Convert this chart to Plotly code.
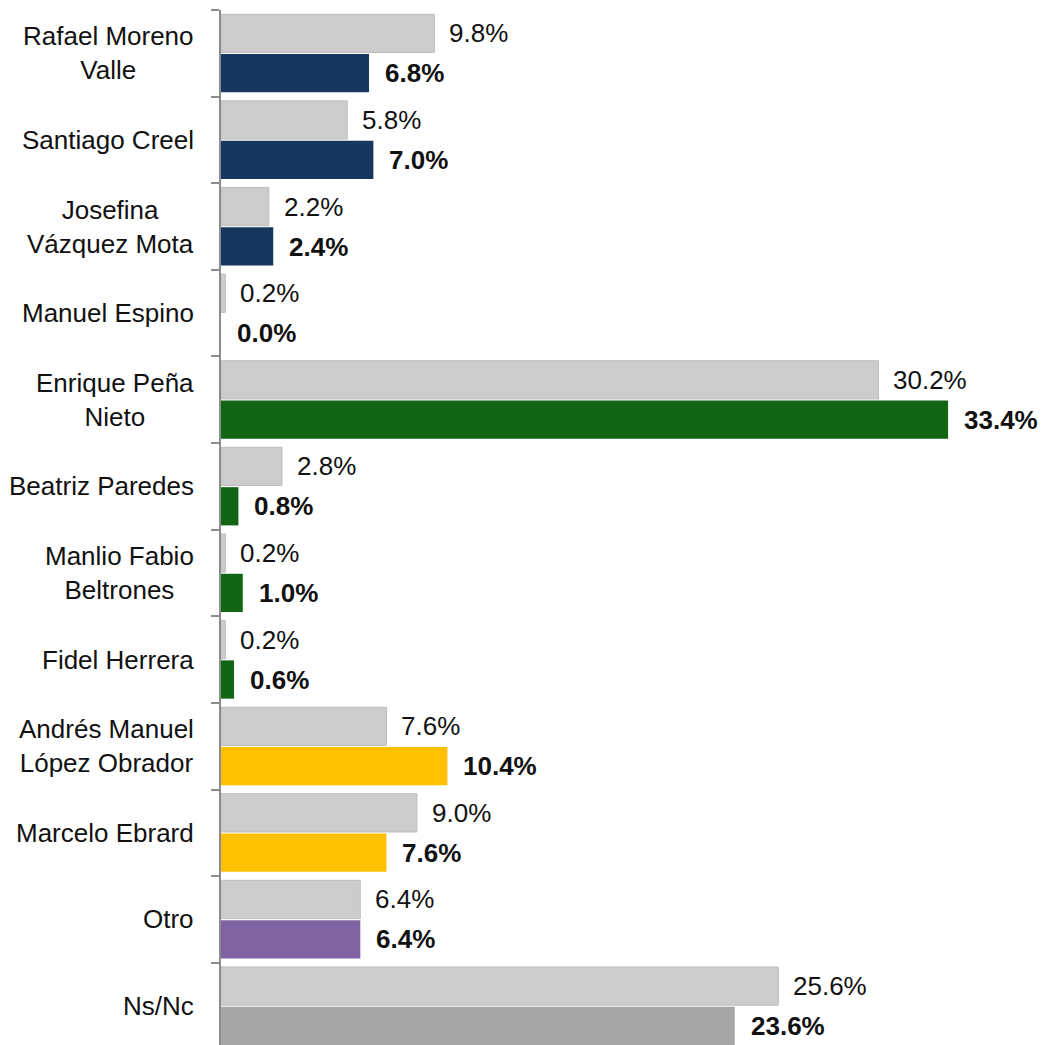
import plotly.graph_objects as go

# Candidates (two-line labels use <br>)
candidates = [
    "Rafael Moreno<br>Valle",
    "Santiago Creel",
    "Josefina<br>Vázquez Mota",
    "Manuel Espino",
    "Enrique Peña<br>Nieto",
    "Beatriz Paredes",
    "Manlio Fabio<br>Beltrones",
    "Fidel Herrera",
    "Andrés Manuel<br>López Obrador",
    "Marcelo Ebrard",
    "Otro",
    "Ns/Nc",
]

# Previous measurement (grey bars) and current measurement (coloured bars), in %
previous = [9.8, 5.8, 2.2, 0.2, 30.2, 2.8, 0.2, 0.2, 7.6, 9.0, 6.4, 25.6]
current = [6.8, 7.0, 2.4, 0.0, 33.4, 0.8, 1.0, 0.6, 10.4, 7.6, 6.4, 23.6]

NAVY = "#17375E"
GREEN = "#126515"
GOLD = "#FFC000"
PURPLE = "#8064A2"
DARK_GREY = "#A6A6A6"
current_colors = [NAVY, NAVY, NAVY, NAVY, GREEN, GREEN, GREEN, GREEN,
                  GOLD, GOLD, PURPLE, DARK_GREY]

FONT = "Liberation Sans"
FS = 26

fig = go.Figure()
fig.add_trace(go.Bar(
    y=candidates, x=previous, orientation="h",
    marker=dict(color="#CCCCCC", line=dict(color="#BDBDBD", width=1)),
    hoverinfo="skip", showlegend=False,
))
fig.add_trace(go.Bar(
    y=candidates, x=current, orientation="h",
    marker=dict(color=current_colors, line=dict(width=0)),
    hoverinfo="skip", showlegend=False,
))

# Value labels beside each bar
for cat, p, c in zip(candidates, previous, current):
    fig.add_annotation(x=p, y=cat, text=f"{p:.1f}%", showarrow=False,
                       xanchor="left", yanchor="middle", xshift=13, yshift=20,
                       font=dict(family=FONT, size=FS, color="#111111"))
    fig.add_annotation(x=c, y=cat, text=f"<b>{c:.1f}%</b>", showarrow=False,
                       xanchor="left", yanchor="middle", xshift=14, yshift=-20,
                       font=dict(family=FONT, size=FS, color="#111111"))

# Category labels, centred line by line, to the left of the axis
for cat in candidates:
    fig.add_annotation(xref="paper", x=0, y=cat, text=cat, showarrow=False,
                       xanchor="right", yanchor="middle", align="center", xshift=-25,
                       font=dict(family=FONT, size=FS, color="#111111"))

fig.update_layout(
    width=1043, height=1045,
    margin=dict(l=221, r=0, t=10, b=0),
    paper_bgcolor="white", plot_bgcolor="white",
    barmode="group", bargap=0.08, bargroupgap=0.04,
    font=dict(family=FONT, size=FS, color="#111111"),
)
fig.update_xaxes(range=[0, 37.76], visible=False, showgrid=False, zeroline=False)
fig.update_yaxes(
    type="category", range=[11.45, -0.5],
    showline=True, linecolor="#8C8C8C", linewidth=2,
    ticks="outside", tickson="boundaries", ticklen=8, tickwidth=2, tickcolor="#8C8C8C",
    showticklabels=False, showgrid=False, zeroline=False,
)

fig.write_html("out.html")
